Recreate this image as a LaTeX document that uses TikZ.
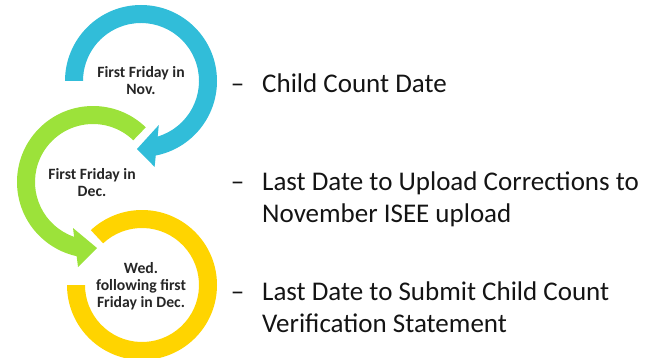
\documentclass[tikz,border=0pt]{standalone}
\usepackage{fontspec}
\setmainfont{Carlito}
\definecolor{ringblue}{RGB}{49,189,217}
\definecolor{ringgreen}{RGB}{156,226,58}
\definecolor{ringyellow}{RGB}{255,212,0}
\definecolor{inktext}{RGB}{20,20,20}
\definecolor{inkcircle}{RGB}{38,38,38}
\begin{document}
\begin{tikzpicture}[x=1pt,y=1pt,
  circletext/.style={inner sep=0pt, align=center, text=inkcircle,
    font=\fontsize{15.7}{17}\selectfont\bfseries},
  itemtext/.style={inner sep=0pt, anchor=base west, text=inktext,
    font=\fontsize{27}{32}\selectfont},
  dashmark/.style={inner sep=0pt, anchor=base, text=inktext,
    font=\fontsize{27}{32}\selectfont}]
\useasboundingbox (0,0) rectangle (646,357);
\clip (0,0) rectangle (646,357);

% yellow ring (no arrow)
\begin{scope}[shift={(142,72)}]
  \fill[ringyellow] (180:75) arc[start angle=180, end angle=493, radius=75]
    -- (493:57) arc[start angle=493, end angle=180, radius=57] -- cycle;
\end{scope}

% green ring with arrow
\begin{scope}[shift={(93,175)}]
  \fill[ringgreen] (46:76) arc[start angle=46, end angle=257.6, radius=76]
    -- (-15,-85) -- (4,-66) -- (-20,-46) -- (251.0:58)
    arc[start angle=251.0, end angle=46, radius=58] -- cycle;
\end{scope}

% blue ring with arrow
\begin{scope}[shift={(141,276)}]
  \fill[ringblue] (180:76) arc[start angle=180, end angle=-78.8, radius=76]
    -- (13.6,-85.9) -- (-4,-68) -- (17.8,-44) -- (-73.3:58)
    arc[start angle=-73.3, end angle=180, radius=58] -- cycle;
\end{scope}

% circle labels
\node[circletext] (nov) at (141,276) {First Friday in\\Nov.};
\node[circletext] (dec) at (92,174.5) {First Friday in\\Dec.};
\node[circletext] (wed) at (141,70.5) {Wed.\\following first\\Friday in Dec.};

% right-hand items
\node[dashmark] (d1) at (237.5,265) {–};
\node[itemtext] (t1) at (262,265) {Child Count Date};
\node[dashmark] (d2) at (237.5,167) {–};
\node[itemtext] (t2a) at (262,167) {Last Date to Upload Corrections to};
\node[itemtext] (t2b) at (262,135) {November ISEE upload};
\node[dashmark] (d3) at (237.5,57) {–};
\node[itemtext] (t3a) at (262,57) {Last Date to Submit Child Count};
\node[itemtext] (t3b) at (262,25) {Verification Statement};
\end{tikzpicture}
\end{document}
